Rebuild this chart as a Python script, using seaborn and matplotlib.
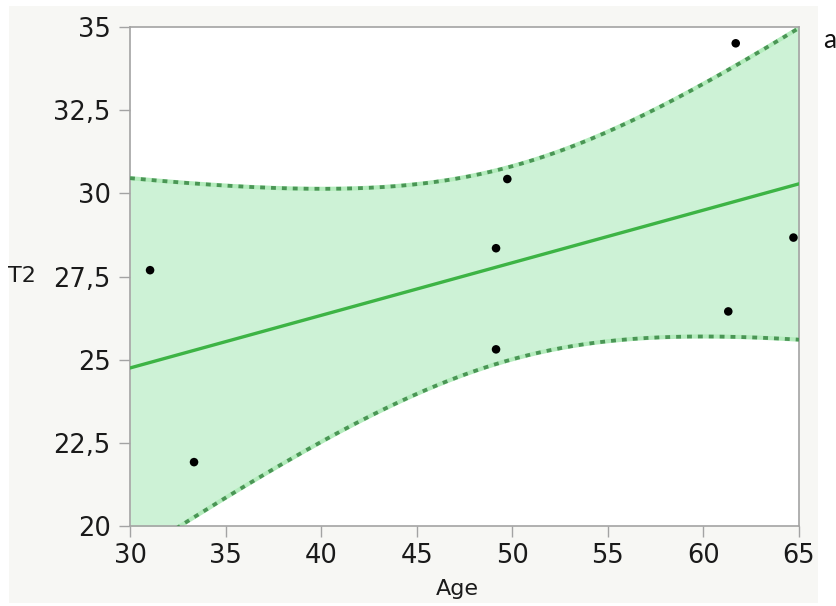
import numpy as np
import pandas as pd
import matplotlib
matplotlib.use("Agg")
import matplotlib.pyplot as plt
from matplotlib.patches import Rectangle
import seaborn as sns

# data
age = [31.05, 33.35, 49.15, 49.15, 49.74, 61.3, 61.69, 64.71]
t2 = [27.69, 21.92, 28.35, 25.31, 30.43, 26.45, 34.51, 28.67]
x_ticks = [30, 35, 40, 45, 50, 55, 60, 65]
y_ticks = [20, 22.5, 25, 27.5, 30, 32.5, 35]
y_tick_labels = ["20", "22,5", "25", "27,5", "30", "32,5", "35"]

T_CRIT = 2.447  # t(0.975, df=6)

df = pd.DataFrame({"Age": age, "T2": t2})

# linear fit + 95% confidence band of the mean
x = np.array(age)
y = np.array(t2)
n = len(x)
slope, intercept = np.polyfit(x, y, 1)
resid = y - (intercept + slope * x)
s = np.sqrt(np.sum(resid ** 2) / (n - 2))
sxx = np.sum((x - x.mean()) ** 2)
grid = np.linspace(30, 65, 300)
fit = intercept + slope * grid
half = T_CRIT * s * np.sqrt(1 / n + (grid - x.mean()) ** 2 / sxx)
fit_df = pd.DataFrame({"Age": grid, "fit": fit, "lo": fit - half, "hi": fit + half})

sns.set_theme(style="white")
plt.rcParams["font.family"] = ["DejaVu Sans"]

fig = plt.figure(figsize=(8.37, 6.06), dpi=100, facecolor="white")
# off-white panel behind the plot
fig.patches.append(Rectangle((9 / 837, 1 - 603 / 606), 809 / 837, 597 / 606,
                             transform=fig.transFigure, facecolor="#f7f7f4",
                             edgecolor="none", zorder=-10))
ax = fig.add_axes([130 / 837, 1 - 526 / 606, 669 / 837, 499 / 606])
ax.set_zorder(1)
ax.set_facecolor("white")

ax.fill_between(fit_df["Age"], fit_df["lo"], fit_df["hi"], color="#cdf2d6",
                linewidth=0, zorder=1)
for col in ["lo", "hi"]:
    ax.plot(fit_df["Age"], fit_df[col], color="#b4ecbd", lw=3.0, zorder=2)
    ax.plot(fit_df["Age"], fit_df[col], color="#4a9655", lw=2.7,
            dashes=(1.3, 1.6), zorder=3)
sns.lineplot(data=fit_df, x="Age", y="fit", color="#3db445", lw=2.4, ax=ax,
             zorder=4)
sns.scatterplot(data=df, x="Age", y="T2", color="black", s=38,
                edgecolor="none", ax=ax, zorder=5)

ax.set_xlim(30, 65)
ax.set_ylim(20, 35)
ax.set_xticks(x_ticks)
ax.set_yticks(y_ticks)
ax.set_yticklabels(y_tick_labels)

for sp in ax.spines.values():
    sp.set_color("#a3a3a3")
    sp.set_linewidth(1.2)
ax.tick_params(axis="both", which="major", direction="out", length=8,
               width=1, color="#a3a3a3", labelsize=18.5, labelcolor="#1a1a1a")
ax.tick_params(axis="x", pad=4)
ax.tick_params(axis="y", pad=6)
ax.tick_params(left=True, bottom=True)

ax.set_xlabel("Age", fontsize=16, color="#1a1a1a")
ax.set_ylabel("T2", fontsize=16, color="#1a1a1a", rotation=0)
ax.xaxis.set_label_coords((457 - 130) / 669, (526 - 589) / 499)
ax.xaxis.label.set_va("center")
ax.yaxis.set_label_coords((22 - 130) / 669, 0.5)
ax.yaxis.label.set_va("center")
ax.yaxis.label.set_ha("center")

fig.text(830 / 837, 1 - 40 / 606, "a", fontsize=19, family="Lato",
         color="#111111", ha="center", va="center")

fig.savefig("out.png", dpi=100, facecolor="white")
